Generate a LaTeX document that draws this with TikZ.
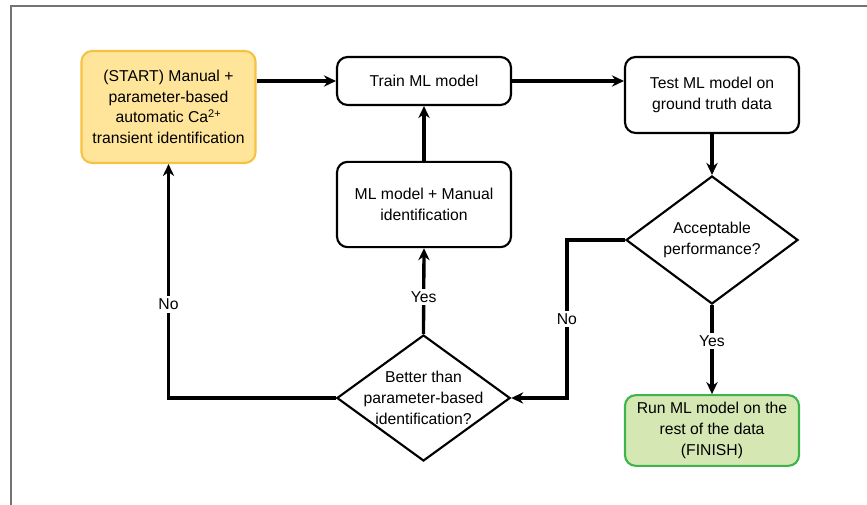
\documentclass[tikz,border=0pt]{standalone}
\usepackage{fontspec}
\setmainfont{Liberation Sans}
\usetikzlibrary{arrows.meta,shapes.geometric}
\definecolor{startfill}{HTML}{FFE599}
\definecolor{startline}{HTML}{F7C244}
\definecolor{endfill}{HTML}{D5E8B4}
\definecolor{endline}{HTML}{3DB54A}
\begin{document}
\begin{tikzpicture}[x=0.75pt,y=-0.75pt,font=\fontsize{11.8pt}{15.5pt}\selectfont]
    \tikzset{
        stepbox/.style={
            draw,
            line width=1.6pt,
            rounded corners=8pt,
            minimum width=130.5pt,
            align=center
        },
        decision/.style={
            draw,
            shape=diamond,
            shape aspect=1.35,
            line width=1.6pt,
            inner sep=-4pt,
            align=center
        },
        flow/.style={-{Stealth[length=9pt,width=8.5pt]},line width=2.5pt},
        tag/.style={fill=white,inner sep=2pt}
    }
    \useasboundingbox (0,0) rectangle (867,505);
    \draw[black!55,line width=0.8pt] (11,505) -- (11,6) -- (867,6);

    \node[stepbox,fill=startfill,draw=startline,minimum height=84pt] (start) at (168.5,107)
        {(START) Manual +\\parameter-based\\automatic Ca\textsuperscript{2+}\\transient identification};
    \node[stepbox,minimum height=36pt] (train) at (424,81)
        {Train ML model};
    \node[stepbox,minimum height=57pt] (test) at (712,95)
        {Test ML model on\\ground truth data};
    \node[decision,minimum width=129pt,minimum height=96pt] (accept) at (712,240)
        {Acceptable\\performance?};
    \node[stepbox,fill=endfill,draw=endline,minimum height=53pt] (finish) at (712,430.5)
        {Run ML model on the\\rest of the data\\(FINISH)};
    \node[stepbox,minimum height=64pt] (mlman) at (424,204.5)
        {ML model + Manual\\identification};
    \node[decision,minimum width=130pt,minimum height=94.5pt] (better) at (423.5,398)
        {Better than\\parameter-based\\identification?};

    \draw[flow] (start.east |- train.west) -- (train.west);
    \draw[flow] (train.east) -- (train.east -| test.west);
    \draw[flow] (test.south) -- (accept.north);
    \draw[flow] (accept.south) -- node[tag,pos=0.4] {Yes} (finish.north);
    \draw[flow] (accept.west) -- ++(-58,0) |- node[tag,pos=0.25] {No} (better.east);
    \draw[flow] (better.north) -- node[tag,pos=0.43] {Yes} (mlman.south);
    \draw[flow] (mlman.north) -- (train.south);
    \draw[flow] (better.west) -| node[tag,pos=0.7] {No} (start.south);
\end{tikzpicture}
\end{document}
